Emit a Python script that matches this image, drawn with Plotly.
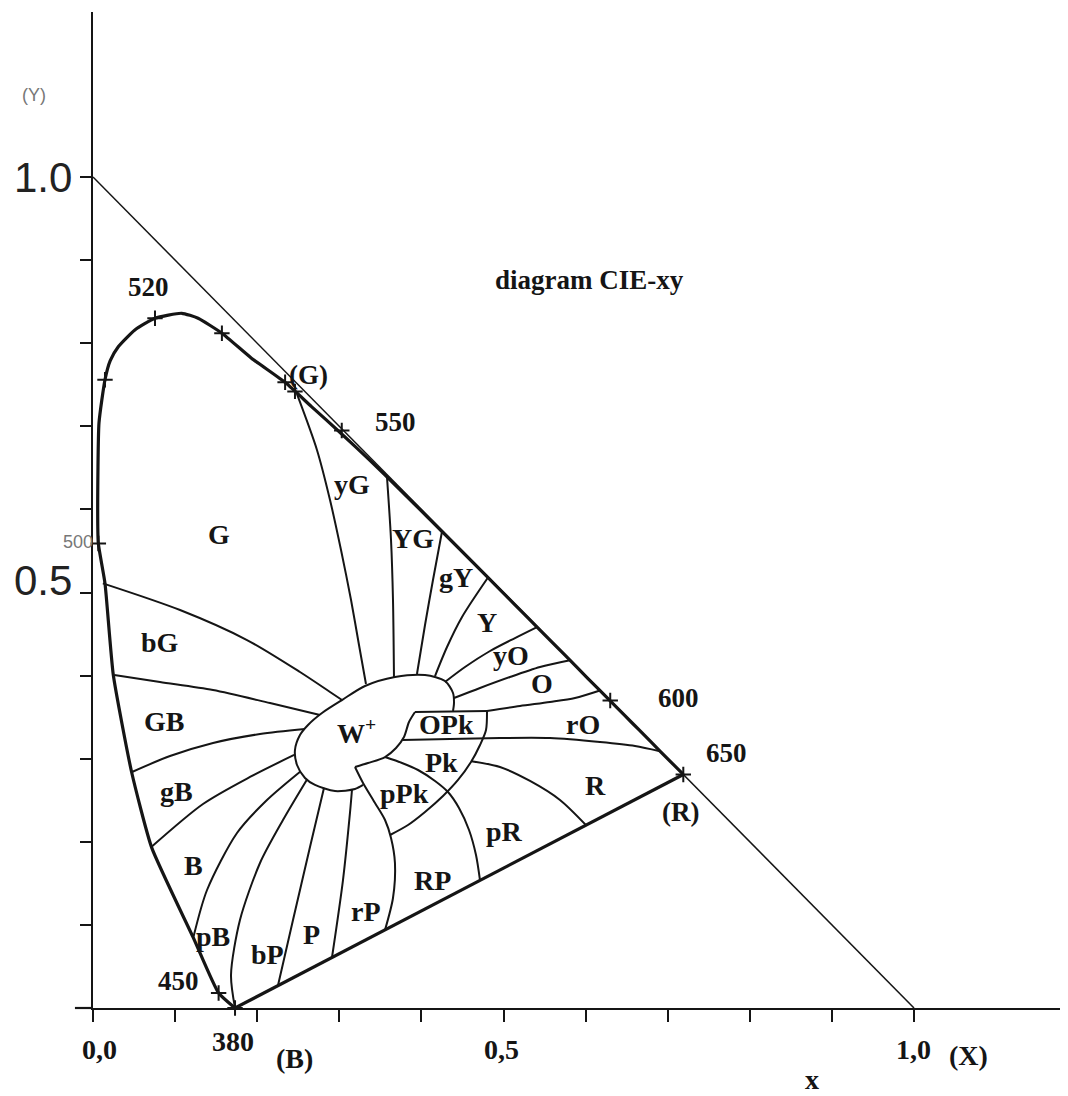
import plotly.graph_objects as go

# spectral locus (x, y chromaticity), 380 nm -> 650 nm corner
locus_x = [0.173, 0.153, 0.122, 0.0715, 0.047, 0.0247, 0.0146, 0.0065, 0.0057, 0.0073,
           0.0146, 0.021, 0.031, 0.051, 0.0755, 0.108, 0.128, 0.157, 0.193, 0.235, 0.2658,
           0.3016, 0.3373, 0.3731, 0.4087, 0.4441, 0.4788, 0.5125, 0.5448, 0.5752,
           0.6029, 0.627, 0.6482, 0.6658, 0.6915, 0.719]
locus_y = [0.000, 0.018, 0.085, 0.193, 0.284, 0.401, 0.511, 0.559, 0.600, 0.704,
           0.756, 0.779, 0.796, 0.816, 0.830, 0.836, 0.830, 0.812, 0.782, 0.752, 0.724,
           0.692, 0.659, 0.6245, 0.5896, 0.5547, 0.5202, 0.4866, 0.4544, 0.4242,
           0.3965, 0.3725, 0.3514, 0.334, 0.3083, 0.281]

# purple line between the two ends
purple_x = [0.173, 0.719]
purple_y = [0.000, 0.281]

# small cross marks on the locus
mark_x = [0.173, 0.153, 0.0065, 0.0146, 0.0755, 0.157, 0.234, 0.246, 0.303, 0.630, 0.719]
mark_y = [0.000, 0.018, 0.559, 0.756, 0.830, 0.812, 0.753, 0.742, 0.695, 0.370, 0.281]

# white area and the pink zone
w_outer = [(0.3289, 0.2684), (0.3191, 0.2635), (0.2948, 0.2611), (0.2704, 0.2684), (0.2582, 0.2768),
           (0.2485, 0.2924), (0.2460, 0.3105), (0.2521, 0.3285), (0.2619, 0.3406), (0.2789, 0.3550),
           (0.3033, 0.3706), (0.3313, 0.3875), (0.3678, 0.3983), (0.4044, 0.4007), (0.4287, 0.3935),
           (0.4385, 0.3791), (0.4397, 0.3670), (0.4385, 0.3574)]
w_inner = [(0.3922, 0.3562), (0.3849, 0.3442), (0.3788, 0.3261), (0.3691, 0.3129), (0.3557, 0.3020),
           (0.3350, 0.2948), (0.3191, 0.2900)]
opk_top = [(0.3922, 0.3562), (0.4799, 0.3574)]
pink_arc = [(0.4799, 0.3574), (0.4787, 0.3345), (0.4714, 0.3165), (0.4604, 0.2960), (0.4446, 0.2744),
            (0.4263, 0.2551), (0.4044, 0.2359), (0.3837, 0.2202), (0.3618, 0.2082)]

# hue boundaries
rP_RP = [(0.3191, 0.2900), (0.3289, 0.2708), (0.3435, 0.2467), (0.3557, 0.2262), (0.3630, 0.2046),
         (0.3678, 0.1745), (0.3654, 0.1324), (0.3557, 0.0940)]
pR_RP = [(0.3557, 0.3020), (0.3764, 0.2948), (0.3959, 0.2864), (0.4166, 0.2732), (0.4324, 0.2599),
         (0.4458, 0.2407), (0.4580, 0.2142), (0.4665, 0.1841), (0.4714, 0.1536)]
R_pR = [(0.4610, 0.2970), (0.4957, 0.2900), (0.5323, 0.2732), (0.5688, 0.2503), (0.6005, 0.2200)]
rO_R = [(0.3770, 0.3225), (0.4348, 0.3237), (0.4957, 0.3249), (0.5566, 0.3249), (0.6175, 0.3201),
        (0.6602, 0.3153), (0.6906, 0.3090)]
O_rO = [(0.4799, 0.3574), (0.5201, 0.3634), (0.5566, 0.3682), (0.5871, 0.3730), (0.6175, 0.3820)]
yO_O = [(0.4397, 0.3730), (0.4714, 0.3851), (0.5079, 0.3983), (0.5445, 0.4103), (0.5810, 0.4184)]
Y_yO = [(0.4287, 0.3923), (0.4531, 0.4103), (0.4836, 0.4296), (0.5140, 0.4452), (0.5408, 0.4584)]
gY_Y = [(0.4166, 0.3995), (0.4312, 0.4344), (0.4495, 0.4705), (0.4811, 0.5180)]
YG_gY = [(0.3946, 0.4019), (0.4044, 0.4609), (0.4141, 0.5150), (0.4251, 0.5734)]
yG_YG = [(0.3666, 0.3983), (0.3654, 0.4910), (0.3630, 0.5632), (0.3581, 0.6389)]
G_yG = [(0.2485, 0.7386), (0.2728, 0.6715), (0.2887, 0.6113), (0.3021, 0.5511), (0.3143, 0.4910),
        (0.3240, 0.4368), (0.3325, 0.3899)]
bG_G = [(0.0120, 0.5110), (0.1060, 0.4789), (0.1876, 0.4428), (0.2521, 0.4043), (0.2887, 0.3803),
        (0.3033, 0.3706)]
GB_bG = [(0.0259, 0.4007), (0.0816, 0.3923), (0.1462, 0.3827), (0.2156, 0.3670), (0.2765, 0.3526)]
gB_GB = [(0.0475, 0.2840), (0.0938, 0.3032), (0.1462, 0.3189), (0.2034, 0.3297), (0.2582, 0.3357)]
B_gB = [(0.0710, 0.1937), (0.1340, 0.2455), (0.1912, 0.2780), (0.2450, 0.3045)]
pB_B = [(0.2530, 0.2850), (0.2119, 0.2503), (0.1754, 0.2106), (0.1389, 0.1420), (0.1225, 0.0860)]
bP_pB = [(0.2607, 0.2750), (0.2314, 0.2262), (0.2034, 0.1745), (0.1790, 0.1059), (0.1681, 0.0397),
         (0.1730, 0.0000)]
P_bP = [(0.2814, 0.2650), (0.2643, 0.1937), (0.2436, 0.1059), (0.2253, 0.0270)]
rP_P = [(0.3155, 0.2632), (0.3130, 0.2347), (0.3045, 0.1540), (0.2911, 0.0608)]

boundaries = [w_outer, w_inner, opk_top, pink_arc, rP_RP, pR_RP, R_pR, rO_R, O_rO, yO_O, Y_yO,
              gY_Y, YG_gY, yG_YG, G_yG, bG_G, GB_bG, gB_GB, B_gB, pB_B, bP_pB, P_bP, rP_P]

# colour name labels
region_names = ["G", "yG", "YG", "gY", "Y", "yO", "O", "rO", "R", "OPk", "Pk", "W<sup>+</sup>",
                "pPk", "pR", "RP", "rP", "P", "bP", "pB", "B", "gB", "GB", "bG"]
region_x = [0.154, 0.316, 0.390, 0.442, 0.480, 0.509, 0.547, 0.597, 0.612, 0.431, 0.424, 0.321,
            0.379, 0.501, 0.413, 0.333, 0.266, 0.212, 0.146, 0.122, 0.102, 0.087, 0.082]
region_y = [0.570, 0.630, 0.565, 0.518, 0.464, 0.424, 0.391, 0.341, 0.268, 0.341, 0.296, 0.333,
            0.258, 0.213, 0.154, 0.116, 0.088, 0.064, 0.086, 0.171, 0.261, 0.345, 0.440]

# wavelength and primary labels
wl_names = ["520", "(G)", "550", "600", "650", "(R)", "450", "diagram CIE-xy"]
wl_x = [0.067, 0.262, 0.368, 0.713, 0.772, 0.716, 0.104, 0.605]
wl_y = [0.868, 0.762, 0.705, 0.373, 0.307, 0.236, 0.033, 0.876]

# labels under the x axis (data units, outside the drawn range)
xlab_names = ["0,0", "380", "(B)", "0,5", "x", "1,0", "(X)"]
xlab_x = [0.0085, 0.1705, 0.246, 0.4976, 0.8758, 0.9988, 1.0658]
xlab_y = [-0.0505, -0.0409, -0.0602, -0.0505, -0.0866, -0.0505, -0.0566]

# labels left of the y axis
ylab_names = ["1.0", "0.5"]
ylab_x = [-0.0615, -0.0615]
ylab_y = [0.999, 0.515]
small_names = ["(Y)", "500"]
small_x = [-0.072, -0.018]
small_y = [1.099, 0.561]

xticks = [i / 10 for i in range(11)]
yticks = [i / 10 for i in range(1, 11)]

X_RANGE = [0, 975 / 821]
Y_RANGE = [0, 996 / 831]

INK = "#151515"
SERIF = "Liberation Serif"


def to_paper(x, y):
    return ((x - X_RANGE[0]) / (X_RANGE[1] - X_RANGE[0]),
            (y - Y_RANGE[0]) / (Y_RANGE[1] - Y_RANGE[0]))


fig = go.Figure()

fig.add_trace(go.Scatter(x=[0, 1], y=[1, 0], mode="lines",
                         line=dict(color=INK, width=1.5), hoverinfo="skip"))

for b in boundaries:
    fig.add_trace(go.Scatter(x=[p[0] for p in b], y=[p[1] for p in b], mode="lines",
                             line=dict(color=INK, width=2, shape="spline", smoothing=0.8),
                             hoverinfo="skip"))

fig.add_trace(go.Scatter(x=locus_x, y=locus_y, mode="lines",
                         line=dict(color=INK, width=3.2, shape="spline", smoothing=0.5),
                         hoverinfo="skip"))
fig.add_trace(go.Scatter(x=purple_x, y=purple_y, mode="lines",
                         line=dict(color=INK, width=3.2), hoverinfo="skip"))
fig.add_trace(go.Scatter(x=mark_x, y=mark_y, mode="markers", cliponaxis=False,
                         marker=dict(symbol="cross-thin", size=11,
                                     line=dict(color=INK, width=2)),
                         hoverinfo="skip"))

ann = []
for t, x, y in zip(region_names, region_x, region_y):
    ann.append(dict(x=x, y=y, xref="x", yref="y", text="<b>%s</b>" % t, showarrow=False,
                    font=dict(family=SERIF, size=28, color=INK)))
for t, x, y in zip(wl_names, wl_x, wl_y):
    ann.append(dict(x=x, y=y, xref="x", yref="y", text="<b>%s</b>" % t, showarrow=False,
                    font=dict(family=SERIF, size=27, color=INK)))
for t, x, y in zip(xlab_names, xlab_x, xlab_y):
    px, py = to_paper(x, y)
    ann.append(dict(x=px, y=py, xref="paper", yref="paper", text="<b>%s</b>" % t,
                    showarrow=False, font=dict(family=SERIF, size=28, color=INK)))
for t, x, y in zip(ylab_names, ylab_x, ylab_y):
    px, py = to_paper(x, y)
    ann.append(dict(x=px, y=py, xref="paper", yref="paper", text=t, showarrow=False,
                    font=dict(family="Liberation Sans", size=42, color="#222")))
for t, x, y in zip(small_names, small_x, small_y):
    px, py = to_paper(x, y)
    ann.append(dict(x=px, y=py, xref="paper", yref="paper", text=t, showarrow=False,
                    font=dict(family="Liberation Sans", size=18, color="#777")))

for a in ann:
    a["xanchor"] = "center"
    a["yanchor"] = "middle"

# the x axis line runs a little past the y axis on the left
x_left, _ = to_paper(-0.022, 0)

fig.update_layout(
    # the page body adds 8px around the figure
    width=1060, height=1088,
    margin=dict(l=85, r=0, t=4, b=88),
    paper_bgcolor="white", plot_bgcolor="white",
    showlegend=False,
    annotations=ann,
    shapes=[dict(type="line", xref="paper", yref="paper", x0=x_left, x1=0, y0=0, y1=0,
                 line=dict(color=INK, width=2.2))],
    xaxis=dict(range=X_RANGE, showline=True, linecolor=INK, linewidth=2.2,
               ticks="outside", ticklen=12, tickwidth=1.6, tickcolor=INK,
               tickvals=xticks, showticklabels=False, showgrid=False, zeroline=False),
    yaxis=dict(range=Y_RANGE, showline=True, linecolor=INK, linewidth=2.2,
               ticks="outside", ticklen=11, tickwidth=1.6, tickcolor=INK,
               tickvals=yticks, showticklabels=False, showgrid=False, zeroline=False),
)

fig.write_html("out.html")
